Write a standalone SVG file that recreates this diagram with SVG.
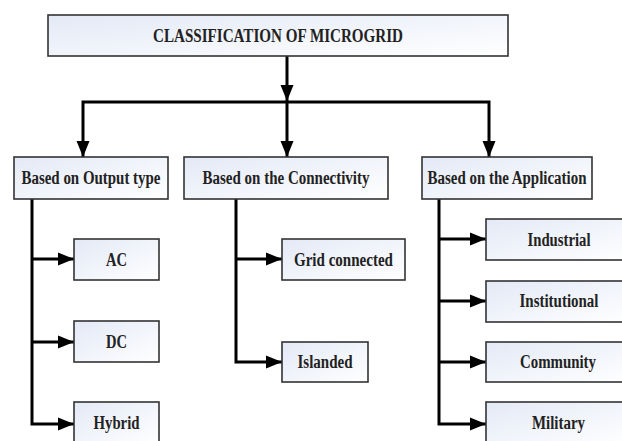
<svg xmlns="http://www.w3.org/2000/svg" width="622" height="441" viewBox="0 0 622 441">
  <style>
    .box { fill: url(#g); stroke: #333; stroke-width: 1.6; }
    .t { font-family: "Liberation Serif", "Times New Roman", serif; font-weight: bold; font-size: 18px; fill: #222; text-anchor: middle; }
    .c { fill: none; stroke: #000; stroke-width: 3; }
    .a { marker-end: url(#arr); }
  </style>
  <defs>
    <linearGradient id="g" x1="0" y1="0" x2="1" y2="1">
      <stop offset="0" stop-color="#e3e9f6"/>
      <stop offset="1" stop-color="#ffffff"/>
    </linearGradient>
    <marker id="arr" markerUnits="userSpaceOnUse" markerWidth="17" markerHeight="14" refX="16" refY="7" orient="auto">
      <path d="M0,0.5 L16,7 L0,13.5 z" fill="#000"/>
    </marker>
  </defs>
  <rect width="622" height="441" fill="#fff"/>

  <g id="connectors">
    <path class="c a" d="M287,56 V101"/>
    <path class="c a" d="M287,102 H83 V157"/>
    <path class="c a" d="M287,102 H489 V157"/>
    <path class="c a" d="M287,102 V157"/>
    <path class="c a" d="M32,199 V424 H74"/>
    <path class="c a" d="M32,259 H74"/>
    <path class="c a" d="M32,342 H74"/>
    <path class="c a" d="M236,199 V362 H282"/>
    <path class="c a" d="M236,259 H282"/>
    <path class="c a" d="M439,199 V424 H486"/>
    <path class="c a" d="M439,239 H486"/>
    <path class="c a" d="M439,301 H486"/>
    <path class="c a" d="M439,362 H486"/>
  </g>

  <g id="root">
    <rect class="box" x="48" y="15" width="460" height="41"/>
    <text class="t" x="278" y="42" textLength="250" lengthAdjust="spacingAndGlyphs">CLASSIFICATION OF MICROGRID</text>
  </g>
  <g id="output-type">
    <rect class="box" x="14" y="157" width="154" height="42"/>
    <text class="t" x="91" y="184" textLength="139" lengthAdjust="spacingAndGlyphs">Based on Output type</text>
  </g>
  <g id="connectivity">
    <rect class="box" x="184" y="157" width="204" height="42"/>
    <text class="t" x="286" y="184" textLength="167" lengthAdjust="spacingAndGlyphs">Based on the Connectivity</text>
  </g>
  <g id="application">
    <rect class="box" x="422" y="157" width="170" height="42"/>
    <text class="t" x="507" y="184" textLength="159" lengthAdjust="spacingAndGlyphs">Based on the Application</text>
  </g>
  <g id="ac">
    <rect class="box" x="74" y="239" width="85" height="41"/>
    <text class="t" x="116.5" y="266" textLength="21" lengthAdjust="spacingAndGlyphs">AC</text>
  </g>
  <g id="dc">
    <rect class="box" x="74" y="321" width="85" height="41"/>
    <text class="t" x="116.5" y="348" textLength="21" lengthAdjust="spacingAndGlyphs">DC</text>
  </g>
  <g id="hybrid">
    <rect class="box" x="74" y="402" width="85" height="41"/>
    <text class="t" x="116.5" y="429" textLength="46" lengthAdjust="spacingAndGlyphs">Hybrid</text>
  </g>
  <g id="grid-connected">
    <rect class="box" x="282" y="239" width="123" height="41"/>
    <text class="t" x="343.5" y="266" textLength="99" lengthAdjust="spacingAndGlyphs">Grid connected</text>
  </g>
  <g id="islanded">
    <rect class="box" x="282" y="342" width="86" height="40"/>
    <text class="t" x="325" y="368" textLength="55" lengthAdjust="spacingAndGlyphs">Islanded</text>
  </g>
  <g id="industrial">
    <rect class="box" x="486" y="219" width="146" height="41"/>
    <text class="t" x="559" y="246" textLength="63" lengthAdjust="spacingAndGlyphs">Industrial</text>
  </g>
  <g id="institutional">
    <rect class="box" x="486" y="281" width="146" height="41"/>
    <text class="t" x="559" y="307" textLength="79" lengthAdjust="spacingAndGlyphs">Institutional</text>
  </g>
  <g id="community">
    <rect class="box" x="486" y="342" width="146" height="40"/>
    <text class="t" x="558" y="368" textLength="76" lengthAdjust="spacingAndGlyphs">Community</text>
  </g>
  <g id="military">
    <rect class="box" x="486" y="402" width="146" height="41"/>
    <text class="t" x="558.5" y="429" textLength="53" lengthAdjust="spacingAndGlyphs">Military</text>
  </g>
</svg>
